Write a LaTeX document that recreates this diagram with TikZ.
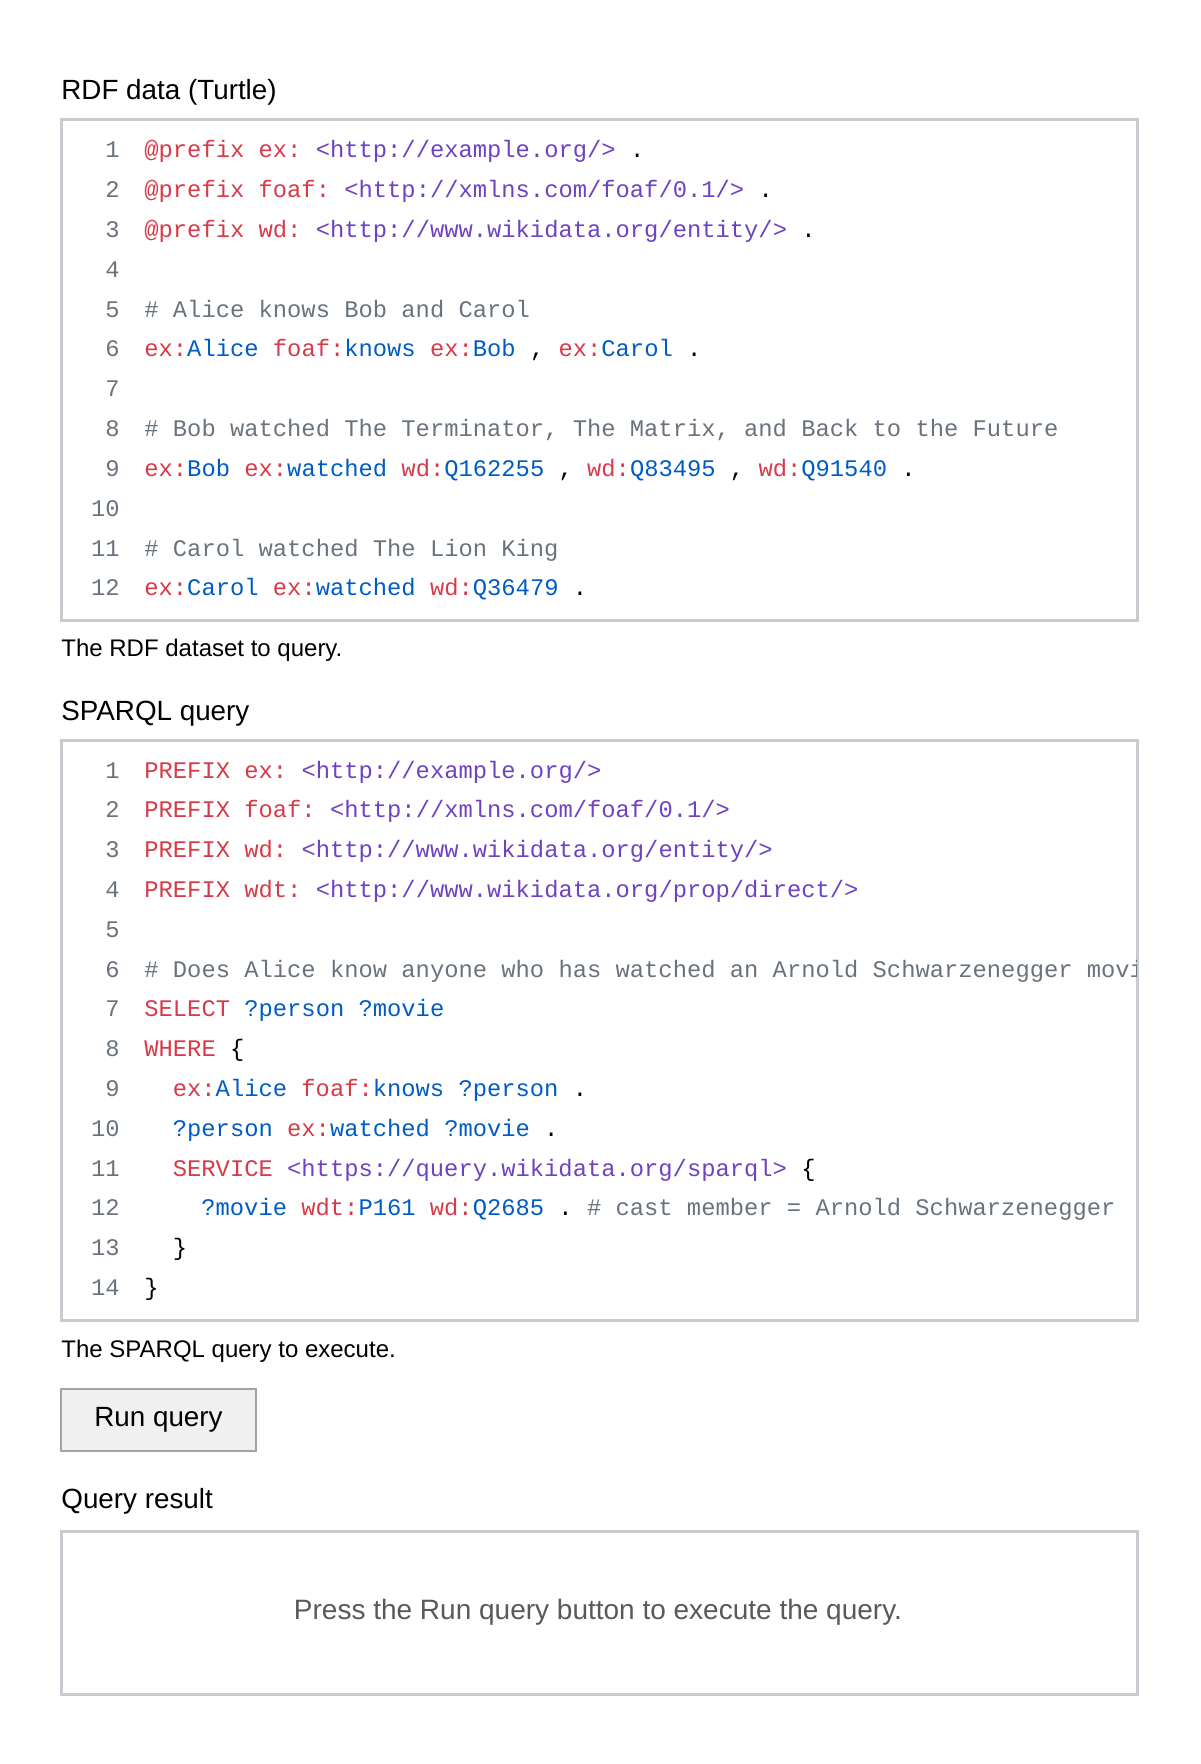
\documentclass[tikz,border=0pt]{standalone}
\usepackage{fontspec}
\setmainfont{Liberation Sans}
\setmonofont{Liberation Mono}
\definecolor{kwred}{HTML}{D73A49}
\definecolor{uripurple}{HTML}{6F42C1}
\definecolor{nameblue}{HTML}{005CC5}
\definecolor{cmtgrey}{HTML}{6A737D}
\definecolor{boxgrey}{HTML}{C8CCD1}
\newcommand{\kw}[1]{\textcolor{kwred}{#1}}
\newcommand{\ur}[1]{\textcolor{uripurple}{#1}}
\newcommand{\nm}[1]{\textcolor{nameblue}{#1}}
\newcommand{\cm}[1]{\textcolor{cmtgrey}{#1}}

\begin{document}
\begin{tikzpicture}[x=0.5pt,y=-0.5pt,
    heading/.style={anchor=base west,inner sep=0pt,font=\fontsize{13.9}{16}\selectfont},
    caption/.style={anchor=base west,inner sep=0pt,font=\fontsize{12}{14}\selectfont},
    lineno/.style={anchor=base east,inner sep=0pt,text=cmtgrey,font=\ttfamily\fontsize{11.9}{13}\selectfont},
    codeline/.style={anchor=base west,inner sep=0pt,font=\ttfamily\fontsize{11.9}{13}\selectfont},
    codebox/.style={draw=boxgrey,line width=1.5pt}]
    \useasboundingbox (0,0) rectangle (1200,1764);

    % RDF data
    \node[heading] (h1) at (61,100) {RDF data (Turtle)};
    \draw[codebox] (61,120) rectangle (1137,620);
    \foreach \n in {1,...,12}
        \node[lineno] (tn\n) at (120,{158+(\n-1)*39.8}) {\n};
    \node[codeline] (t1) at (144,158) {\kw{@prefix ex:} \ur{<http://example.org/>} .};
    \node[codeline] (t2) at (144,197.8) {\kw{@prefix foaf:} \ur{<http://xmlns.com/foaf/0.1/>} .};
    \node[codeline] (t3) at (144,237.6) {\kw{@prefix wd:} \ur{<http://www.wikidata.org/entity/>} .};
    \node[codeline] (t5) at (144,317.2) {\cm{\# Alice knows Bob and Carol}};
    \node[codeline] (t6) at (144,357) {\kw{ex:}\nm{Alice} \kw{foaf:}\nm{knows} \kw{ex:}\nm{Bob} , \kw{ex:}\nm{Carol} .};
    \node[codeline] (t8) at (144,436.6) {\cm{\# Bob watched The Terminator, The Matrix, and Back to the Future}};
    \node[codeline] (t9) at (144,476.4) {\kw{ex:}\nm{Bob} \kw{ex:}\nm{watched} \kw{wd:}\nm{Q162255} , \kw{wd:}\nm{Q83495} , \kw{wd:}\nm{Q91540} .};
    \node[codeline] (t11) at (144,556) {\cm{\# Carol watched The Lion King}};
    \node[codeline] (t12) at (144,595.8) {\kw{ex:}\nm{Carol} \kw{ex:}\nm{watched} \kw{wd:}\nm{Q36479} .};
    \node[caption] (c1) at (61,656) {The RDF dataset to query.};

    % SPARQL query
    \node[heading] (h2) at (61,720) {SPARQL query};
    \draw[codebox] (61,740) rectangle (1137,1320);
    \foreach \n in {1,...,14}
        \node[lineno] (qn\n) at (120,{778+(\n-1)*39.8}) {\n};
    \begin{scope}
        \clip (61,740) rectangle (1136,1320);
        \node[codeline] (q1) at (144,778) {\kw{PREFIX ex:} \ur{<http://example.org/>}};
        \node[codeline] (q2) at (144,817.8) {\kw{PREFIX foaf:} \ur{<http://xmlns.com/foaf/0.1/>}};
        \node[codeline] (q3) at (144,857.6) {\kw{PREFIX wd:} \ur{<http://www.wikidata.org/entity/>}};
        \node[codeline] (q4) at (144,897.4) {\kw{PREFIX wdt:} \ur{<http://www.wikidata.org/prop/direct/>}};
        \node[codeline] (q6) at (144,977) {\cm{\# Does Alice know anyone who has watched an Arnold Schwarzenegger movie?}};
        \node[codeline] (q7) at (144,1016.8) {\kw{SELECT} \nm{?person ?movie}};
        \node[codeline] (q8) at (144,1056.6) {\kw{WHERE} \{};
        \node[codeline] (q9) at (172.5,1096.4) {\kw{ex:}\nm{Alice} \kw{foaf:}\nm{knows} \nm{?person} .};
        \node[codeline] (q10) at (172.5,1136.2) {\nm{?person} \kw{ex:}\nm{watched} \nm{?movie} .};
        \node[codeline] (q11) at (172.5,1176) {\kw{SERVICE} \ur{<https://query.wikidata.org/sparql>} \{};
        \node[codeline] (q12) at (201,1215.8) {\nm{?movie} \kw{wdt:}\nm{P161} \kw{wd:}\nm{Q2685} . \cm{\# cast member = Arnold Schwarzenegger}};
        \node[codeline] (q13) at (172.5,1255.6) {\}};
        \node[codeline] (q14) at (144,1295.4) {\}};
    \end{scope}
    \node[caption] (c2) at (61,1357) {The SPARQL query to execute.};

    % button and result
    \node[draw=boxgrey!80!black,fill=gray!12,line width=1.2pt,minimum width=97.5pt,minimum height=31pt,
        inner sep=0pt,font=\fontsize{13.9}{16}\selectfont] (run) at (158.5,1420) {Run query};
    \node[heading] (h3) at (61,1508) {Query result};
    \draw[codebox] (61,1531) rectangle (1137,1694);
    \node[font=\fontsize{14}{16}\selectfont,text=black!65] (msg) at (598,1612) {Press the Run query button to execute the query.};
\end{tikzpicture}
\end{document}
